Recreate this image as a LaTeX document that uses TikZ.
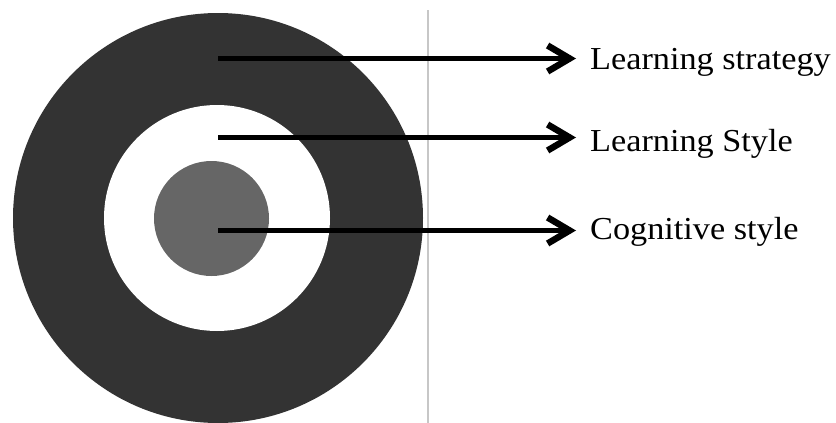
\documentclass[tikz,border=0pt]{standalone}
\usepackage{fontspec}
\setmainfont{Liberation Serif}
\usetikzlibrary{arrows.meta}
\begin{document}
\begin{tikzpicture}[x=1pt,y=1pt,
  arr/.style={line width=5.5pt,-{Straight Barb[length=22pt,width=26pt,line width=6.5pt]}},
  lbl/.style={anchor=base west,inner sep=0pt,font=\fontsize{32}{36}\selectfont,xscale=1.07}]
\useasboundingbox (0,0) rectangle (836,-423);
\fill[fill=white] (0,0) rectangle (836,-423);
\fill[fill=black!80] (218,-218) circle (205);
\fill[fill=white] (217,-218) circle (113);
\fill[fill=black!60] (211.5,-218.5) circle (57.5);
\draw[black!22,line width=1.5pt] (428,-10) -- (428,-423);
\coordinate (s1) at (218,-58.5);
\coordinate (s2) at (218,-137.5);
\coordinate (s3) at (218,-230.5);
\node[lbl] (t1) at (590,-69) {Learning strategy};
\node[lbl] (t2) at (590,-151) {Learning Style};
\node[lbl] (t3) at (590,-239) {Cognitive style};
\draw[arr,shorten >=14pt] (s1) -- (s1 -| t1.west);
\draw[arr,shorten >=14pt] (s2) -- (s2 -| t2.west);
\draw[arr,shorten >=14pt] (s3) -- (s3 -| t3.west);
\end{tikzpicture}
\end{document}
